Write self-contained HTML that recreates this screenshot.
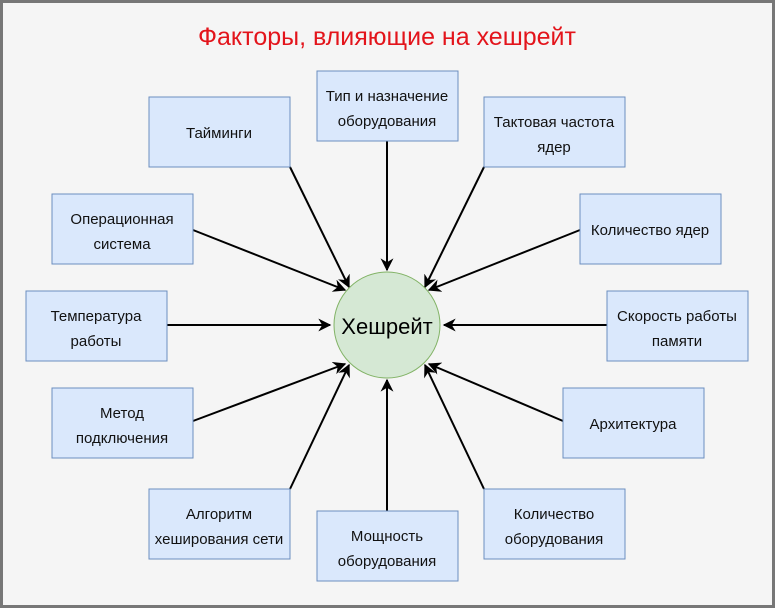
<!DOCTYPE html>
<html><head><meta charset="utf-8"><style>
body{margin:0;background:#fff}
svg{display:block}
text{font-family:"Liberation Sans",Arial,sans-serif}
</style></head><body>
<svg width="775" height="608" viewBox="0 0 775 608" xmlns="http://www.w3.org/2000/svg">
<defs><marker id="a" viewBox="0 0 10 10" refX="9" refY="5" markerWidth="13" markerHeight="13" orient="auto" markerUnits="userSpaceOnUse"><path d="M0,0 L10,5 L0,10 L3,5 z" fill="#000"/></marker></defs>
<rect x="1.5" y="1.5" width="772" height="605" fill="#f5f5f5" stroke="#777" stroke-width="3"/>
<text x="387" y="45" font-size="25" fill="#e3141b" text-anchor="middle">Факторы, влияющие на хешрейт</text>
<g stroke="#000" stroke-width="2" marker-end="url(#a)">
<line x1="387" y1="141" x2="387" y2="270"/>
<line x1="290" y1="167" x2="349" y2="287"/>
<line x1="484" y1="167" x2="425" y2="287"/>
<line x1="193" y1="230" x2="345" y2="290"/>
<line x1="580" y1="230" x2="429" y2="290"/>
<line x1="167" y1="325" x2="330" y2="325"/>
<line x1="607" y1="325" x2="444" y2="325"/>
<line x1="193" y1="421" x2="345" y2="364"/>
<line x1="563" y1="421" x2="429" y2="364"/>
<line x1="290" y1="489" x2="349" y2="365"/>
<line x1="484" y1="489" x2="425" y2="365"/>
<line x1="387" y1="511" x2="387" y2="380"/>
</g>
<circle cx="387" cy="325" r="53" fill="#d5e8d4" stroke="#82b366"/>
<text x="387" y="334" font-size="22" text-anchor="middle">Хешрейт</text>
<g fill="#dae8fc" stroke="#6c8ebf">
<rect x="317" y="71" width="141" height="70"/>
<rect x="149" y="97" width="141" height="70"/>
<rect x="484" y="97" width="141" height="70"/>
<rect x="52" y="194" width="141" height="70"/>
<rect x="580" y="194" width="141" height="70"/>
<rect x="26" y="291" width="141" height="70"/>
<rect x="607" y="291" width="141" height="70"/>
<rect x="52" y="388" width="141" height="70"/>
<rect x="563" y="388" width="141" height="70"/>
<rect x="149" y="489" width="141" height="70"/>
<rect x="317" y="511" width="141" height="70"/>
<rect x="484" y="489" width="141" height="70"/>
</g>
<g font-size="15" text-anchor="middle" fill="#111">
<text x="387" y="101">Тип и назначение</text><text x="387" y="126">оборудования</text>
<text x="219" y="138">Тайминги</text>
<text x="554" y="127">Тактовая частота</text><text x="554" y="152">ядер</text>
<text x="122" y="224">Операционная</text><text x="122" y="249">система</text>
<text x="650" y="235">Количество ядер</text>
<text x="96" y="321">Температура</text><text x="96" y="346">работы</text>
<text x="677" y="321">Скорость работы</text><text x="677" y="346">памяти</text>
<text x="122" y="418">Метод</text><text x="122" y="443">подключения</text>
<text x="633" y="429">Архитектура</text>
<text x="219" y="519">Алгоритм</text><text x="219" y="544">хеширования сети</text>
<text x="387" y="541">Мощность</text><text x="387" y="566">оборудования</text>
<text x="554" y="519">Количество</text><text x="554" y="544">оборудования</text>
</g>
</svg>
</body></html>
